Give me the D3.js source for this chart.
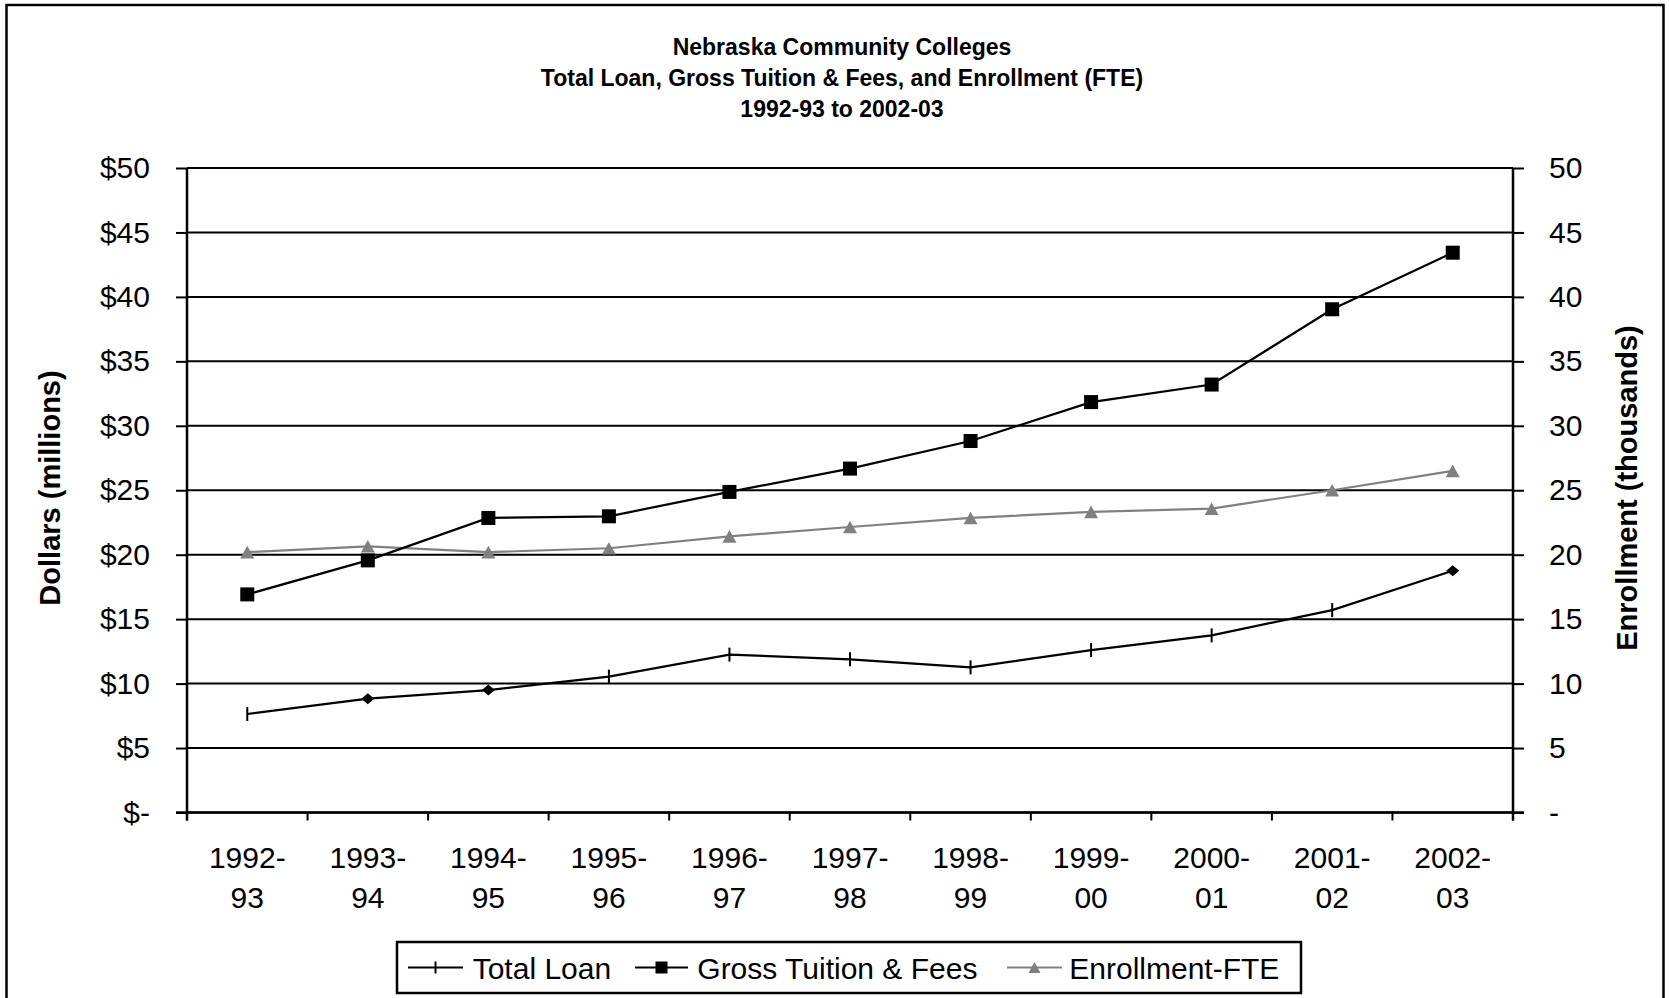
<!DOCTYPE html>
<html>
<head>
<meta charset="utf-8">
<script src="https://cdn.jsdelivr.net/npm/d3@7"></script>
<style>
  html, body { margin: 0; padding: 0; background: #fff; }
  svg { display: block; font-family: "Liberation Sans", Arial, sans-serif; }
</style>
</head>
<body>
<svg id="chart" width="1669" height="998"></svg>
<script>
// School years shown on the x axis
const years = ["1992-93", "1993-94", "1994-95", "1995-96", "1996-97", "1997-98",
               "1998-99", "1999-00", "2000-01", "2001-02", "2002-03"];

// Dollars in millions (left axis)
const totalLoan = [7.64, 8.83, 9.50, 10.54, 12.25, 11.88, 11.26, 12.60, 13.74, 15.70, 18.75];
const grossTuition = [16.92, 19.56, 22.85, 22.98, 24.87, 26.68, 28.82, 31.84, 33.20, 39.04, 43.43];

// Full-time-equivalent enrollment in thousands (right axis)
const enrollmentFTE = [20.20, 20.65, 20.20, 20.50, 21.42, 22.15, 22.85, 23.32, 23.57, 25.00, 26.50];

// Axis tick values
const dollarTicks = [0, 5, 10, 15, 20, 25, 30, 35, 40, 45, 50];
const enrollTicks = [0, 5, 10, 15, 20, 25, 30, 35, 40, 45, 50];

const titleLines = ["Nebraska Community Colleges",
                    "Total Loan, Gross Tuition & Fees, and Enrollment (FTE)",
                    "1992-93 to 2002-03"];
const seriesNames = ["Total Loan", "Gross Tuition & Fees", "Enrollment-FTE"];

const svg = d3.select("#chart");
const GRAY = "#808080";
const FONT = "Liberation Sans, Arial, sans-serif";

// Plot frame
const plot = { left: 187, right: 1513, top: 168, bottom: 812.5 };

const x = d3.scaleBand().domain(years).range([plot.left, plot.right]).padding(0);
const yL = d3.scaleLinear().domain([0, 50]).range([plot.bottom, plot.top]);
const yR = d3.scaleLinear().domain([0, 50]).range([plot.bottom, plot.top]);
const cx = d => x(d) + x.bandwidth() / 2;

// Outer chart border
svg.append("rect")
  .attr("x", 6.5).attr("y", 5).attr("width", 1657).attr("height", 1010)
  .attr("fill", "none").attr("stroke", "#000").attr("stroke-width", 2.5);

// Title
const title = svg.append("text")
  .attr("text-anchor", "middle").attr("font-weight", "bold").attr("font-size", 23)
  .attr("font-family", FONT);
titleLines.forEach((t, i) => {
  title.append("tspan").attr("x", 842).attr("y", 55 + i * 31).text(t);
});

// Horizontal gridlines
svg.append("g")
  .selectAll("line").data(dollarTicks).join("line")
  .attr("x1", plot.left).attr("x2", plot.right)
  .attr("y1", d => yL(d)).attr("y2", d => yL(d))
  .attr("stroke", "#000").attr("stroke-width", 2);

// Left axis (dollars)
const leftAxis = svg.append("g")
  .attr("transform", `translate(${plot.left},0)`)
  .call(d3.axisLeft(yL).tickValues(dollarTicks).tickSize(11).tickPadding(26)
        .tickFormat(d => d === 0 ? "$-" : "$" + d));

// Right axis (enrollment)
const rightAxis = svg.append("g")
  .attr("transform", `translate(${plot.right},0)`)
  .call(d3.axisRight(yR).tickValues(enrollTicks).tickSize(11).tickPadding(25)
        .tickFormat(d => d === 0 ? "-" : String(d)));

// Bottom axis: labels centred in each band, split over two lines
const bottomAxis = svg.append("g")
  .attr("transform", `translate(0,${plot.bottom})`)
  .call(d3.axisBottom(x).tickSize(0).tickPadding(0));
bottomAxis.selectAll(".tick text").each(function (d) {
  const parts = d.split("-");
  const t = d3.select(this).text(null).attr("y", 0).attr("dy", null);
  t.append("tspan").attr("x", 0).attr("y", 55.5).text(parts[0] + "-");
  t.append("tspan").attr("x", 0).attr("y", 95.5).text(parts[1]);
});
bottomAxis.select(".domain").remove();

// Category boundary ticks below the x axis
svg.append("g")
  .selectAll("line").data(d3.range(years.length + 1)).join("line")
  .attr("x1", i => plot.left + i * x.step()).attr("x2", i => plot.left + i * x.step())
  .attr("y1", plot.bottom).attr("y2", plot.bottom + 8)
  .attr("stroke", "#000").attr("stroke-width", 2);

[leftAxis, rightAxis].forEach(g => {
  g.selectAll(".tick line").attr("stroke", "#000").attr("stroke-width", 2);
  g.select(".domain").remove();
});
[leftAxis, rightAxis, bottomAxis].forEach(g => {
  g.attr("font-family", FONT);
  g.selectAll("text").attr("font-size", 30).attr("fill", "#000");
});

// Vertical axis lines
[plot.left, plot.right].forEach(px => {
  svg.append("line")
    .attr("x1", px).attr("x2", px).attr("y1", plot.top).attr("y2", plot.bottom + 8)
    .attr("stroke", "#000").attr("stroke-width", 2.5);
});
svg.append("line")
  .attr("x1", plot.left - 11).attr("x2", plot.right + 11)
  .attr("y1", plot.bottom).attr("y2", plot.bottom)
  .attr("stroke", "#000").attr("stroke-width", 2.5);

// Axis titles
svg.append("text")
  .attr("transform", "translate(60,488) rotate(-90)")
  .attr("text-anchor", "middle").attr("font-weight", "bold").attr("font-size", 29)
  .attr("font-family", FONT)
  .text("Dollars (millions)");
svg.append("text")
  .attr("transform", "translate(1637,488) rotate(-90)")
  .attr("text-anchor", "middle").attr("font-weight", "bold").attr("font-size", 29)
  .attr("font-family", FONT)
  .text("Enrollment (thousands)");

// Marker shapes
function marker(g, kind, px, py, s) {
  if (kind === "square") {
    g.append("rect").attr("x", px - s / 2).attr("y", py - s / 2)
      .attr("width", s).attr("height", s).attr("fill", "#000");
  } else if (kind === "triangle") {
    const h = s * 0.9;
    g.append("path")
      .attr("d", `M${px},${py - h / 2}L${px + s / 2},${py + h / 2}L${px - s / 2},${py + h / 2}Z`)
      .attr("fill", GRAY);
  } else if (kind === "diamond") {
    const w = s / 2, h = s * 0.42;
    g.append("path")
      .attr("d", `M${px},${py - h}L${px + w},${py}L${px},${py + h}L${px - w},${py}Z`)
      .attr("fill", "#000");
  }
}

const line = (scale) => d3.line().x((d, i) => cx(years[i])).y(d => scale(d));

// Enrollment (gray, right axis)
const gEnr = svg.append("g");
gEnr.append("path").datum(enrollmentFTE).attr("d", line(yR))
  .attr("fill", "none").attr("stroke", GRAY).attr("stroke-width", 2.2);
enrollmentFTE.forEach((v, i) => marker(gEnr, "triangle", cx(years[i]), yR(v), 14));

// Gross tuition & fees (black squares)
const gTui = svg.append("g");
gTui.append("path").datum(grossTuition).attr("d", line(yL))
  .attr("fill", "none").attr("stroke", "#000").attr("stroke-width", 2.2);
grossTuition.forEach((v, i) => marker(gTui, "square", cx(years[i]), yL(v), 14));

// Total loan (black line; a few points carry small diamond markers)
const diamondYears = new Set(["1993-94", "1994-95", "2002-03"]);
const gLoan = svg.append("g");
gLoan.append("path").datum(totalLoan).attr("d", line(yL))
  .attr("fill", "none").attr("stroke", "#000").attr("stroke-width", 2.2);
totalLoan.forEach((v, i) => {
  const yr = years[i];
  if (diamondYears.has(yr)) marker(gLoan, "diamond", cx(yr), yL(v), 13);
  else {
    gLoan.append("line").attr("x1", cx(yr)).attr("x2", cx(yr))
      .attr("y1", yL(v) - 7).attr("y2", yL(v) + 7)
      .attr("stroke", "#000").attr("stroke-width", 2);
  }
});

// Legend
const legend = svg.append("g").attr("font-family", FONT);
legend.append("rect").attr("x", 397).attr("y", 942).attr("width", 904).attr("height", 51)
  .attr("fill", "#fff").attr("stroke", "#000").attr("stroke-width", 2.5);
const legendItems = [
  { name: seriesNames[0], x1: 408, x2: 463, tx: 472.7, color: "#000", kind: "plus" },
  { name: seriesNames[1], x1: 635, x2: 688, tx: 697.3, color: "#000", kind: "square" },
  { name: seriesNames[2], x1: 1007, x2: 1062, tx: 1069.3, color: GRAY, kind: "triangle" }
];
const ly = 967.5;
legendItems.forEach(it => {
  legend.append("line").attr("x1", it.x1).attr("x2", it.x2).attr("y1", ly).attr("y2", ly)
    .attr("stroke", it.color).attr("stroke-width", 2.2);
  const mx = (it.x1 + it.x2) / 2;
  if (it.kind === "plus") {
    legend.append("line").attr("x1", mx).attr("x2", mx).attr("y1", ly - 6).attr("y2", ly + 6)
      .attr("stroke", "#000").attr("stroke-width", 2);
  } else {
    marker(legend, it.kind, mx, ly, 12);
  }
  legend.append("text").attr("x", it.tx).attr("y", 978.5).attr("font-size", 30)
    .text(it.name);
});
</script>
</body>
</html>
